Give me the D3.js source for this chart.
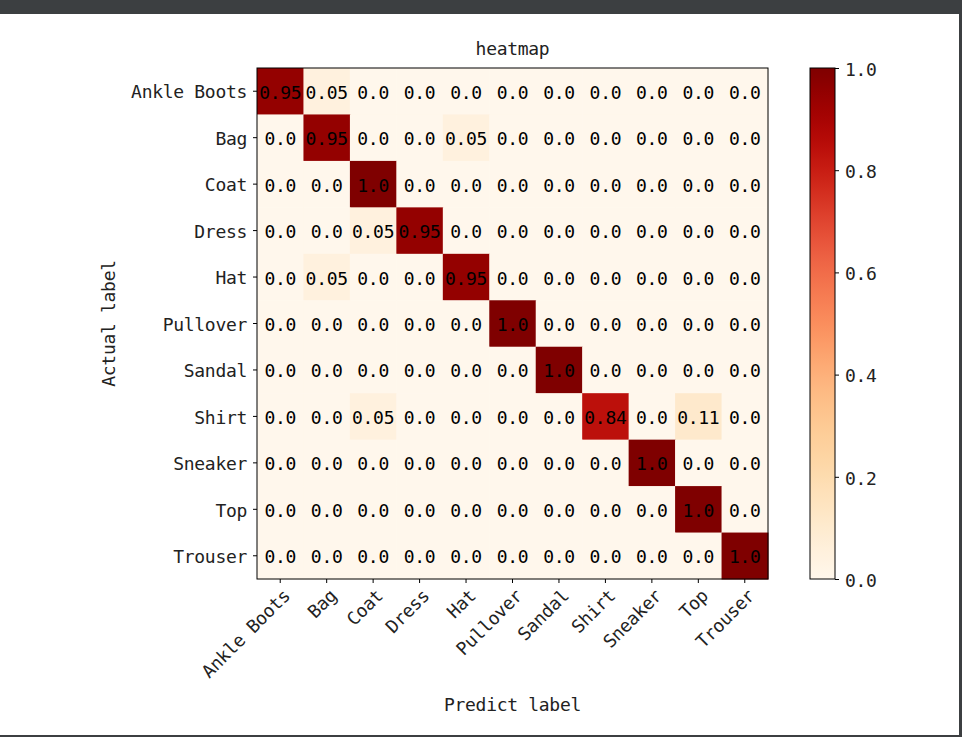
<!DOCTYPE html>
<html>
<head>
<meta charset="utf-8">
<script src="https://cdn.jsdelivr.net/npm/d3@7"></script>
<style>
  html, body { margin: 0; padding: 0; background: #ffffff; }
  svg text { font-family: "DejaVu Sans Mono", "Liberation Mono", monospace; fill: #222; }
</style>
</head>
<body>
<svg id="chart" width="962" height="737"></svg>
<script>
const categories = ["Ankle Boots", "Bag", "Coat", "Dress", "Hat", "Pullover", "Sandal", "Shirt", "Sneaker", "Top", "Trouser"];
const rowAnkleBoots = [0.95, 0.05, 0.0, 0.0, 0.0, 0.0, 0.0, 0.0, 0.0, 0.0, 0.0];
const rowBag        = [0.0, 0.95, 0.0, 0.0, 0.05, 0.0, 0.0, 0.0, 0.0, 0.0, 0.0];
const rowCoat       = [0.0, 0.0, 1.0, 0.0, 0.0, 0.0, 0.0, 0.0, 0.0, 0.0, 0.0];
const rowDress      = [0.0, 0.0, 0.05, 0.95, 0.0, 0.0, 0.0, 0.0, 0.0, 0.0, 0.0];
const rowHat        = [0.0, 0.05, 0.0, 0.0, 0.95, 0.0, 0.0, 0.0, 0.0, 0.0, 0.0];
const rowPullover   = [0.0, 0.0, 0.0, 0.0, 0.0, 1.0, 0.0, 0.0, 0.0, 0.0, 0.0];
const rowSandal     = [0.0, 0.0, 0.0, 0.0, 0.0, 0.0, 1.0, 0.0, 0.0, 0.0, 0.0];
const rowShirt      = [0.0, 0.0, 0.05, 0.0, 0.0, 0.0, 0.0, 0.84, 0.0, 0.11, 0.0];
const rowSneaker    = [0.0, 0.0, 0.0, 0.0, 0.0, 0.0, 0.0, 0.0, 1.0, 0.0, 0.0];
const rowTop        = [0.0, 0.0, 0.0, 0.0, 0.0, 0.0, 0.0, 0.0, 0.0, 1.0, 0.0];
const rowTrouser    = [0.0, 0.0, 0.0, 0.0, 0.0, 0.0, 0.0, 0.0, 0.0, 0.0, 1.0];
const matrix = [rowAnkleBoots, rowBag, rowCoat, rowDress, rowHat, rowPullover, rowSandal, rowShirt, rowSneaker, rowTop, rowTrouser];
const colorbarTicks = [0.0, 0.2, 0.4, 0.6, 0.8, 1.0];
const titleText = "heatmap";
const xLabelText = "Predict label";
const yLabelText = "Actual label";

const svg = d3.select("#chart");
const FS = 18;
const LS = "-0.3px";

// window frame
svg.append("rect").attr("x", 0).attr("y", 0).attr("width", 962).attr("height", 14).attr("fill", "#3c3f41");
svg.append("rect").attr("x", 959).attr("y", 0).attr("width", 3).attr("height", 737).attr("fill", "#3c3f41");
svg.append("rect").attr("x", 0).attr("y", 735).attr("width", 962).attr("height", 2).attr("fill", "#3c3f41");

const ax = { left: 257, right: 768, top: 68, bottom: 579 };
const x = d3.scaleBand().domain(categories).range([ax.left, ax.right]).padding(0);
const y = d3.scaleBand().domain(categories).range([ax.top, ax.bottom]).padding(0);
const color = d3.scaleSequential(d3.interpolateOrRd).domain([0, 1]);
const fmt = v => Number.isInteger(v) ? v.toFixed(1) : String(v);

const cells = [];
matrix.forEach((row, i) => row.forEach((v, j) => cells.push({ r: categories[i], c: categories[j], v })));

const g = svg.append("g");
g.selectAll("rect.cell").data(cells).join("rect")
  .attr("class", "cell")
  .attr("x", d => x(d.c)).attr("y", d => y(d.r))
  .attr("width", x.bandwidth() + 0.5).attr("height", y.bandwidth() + 0.5)
  .attr("fill", d => color(d.v));

g.selectAll("text.val").data(cells).join("text")
  .attr("class", "val")
  .attr("x", d => x(d.c) + x.bandwidth() / 2)
  .attr("y", d => y(d.r) + y.bandwidth() / 2 + 1)
  .attr("text-anchor", "middle").attr("dominant-baseline", "central")
  .attr("font-size", FS).attr("letter-spacing", LS).style("fill", "#000")
  .text(d => fmt(d.v));

// spines
svg.append("rect").attr("x", ax.left).attr("y", ax.top)
  .attr("width", ax.right - ax.left).attr("height", ax.bottom - ax.top)
  .attr("fill", "none").attr("stroke", "#000").attr("stroke-width", 1);

// y axis
const yAxis = d3.axisLeft(y).tickSize(4).tickPadding(6);
const yg = svg.append("g").attr("transform", `translate(${ax.left},0)`).call(yAxis);
yg.select(".domain").remove();
yg.selectAll("text").attr("font-size", FS).attr("font-family", null).attr("letter-spacing", LS)
  .attr("dy", "0.4em").style("fill", "#222");

// x axis
const xAxis = d3.axisBottom(x).tickSize(4).tickPadding(6);
const xg = svg.append("g").attr("transform", `translate(0,${ax.bottom})`).call(xAxis);
xg.select(".domain").remove();
xg.selectAll("text")
  .attr("font-size", FS).attr("font-family", null).attr("letter-spacing", LS).style("fill", "#222")
  .attr("text-anchor", "end")
  .attr("y", 0).attr("dy", "0.78em")
  .attr("transform", "translate(1,8) rotate(-45)");

// colorbar
const cb = { left: 810, right: 835, top: 68, bottom: 579 };
const cy = d3.scaleLinear().domain([0, 1]).range([cb.bottom, cb.top]);
const defs = svg.append("defs");
const grad = defs.append("linearGradient").attr("id", "cbgrad")
  .attr("x1", 0).attr("y1", 1).attr("x2", 0).attr("y2", 0);
d3.range(0, 1.0001, 0.02).forEach(t => grad.append("stop").attr("offset", t).attr("stop-color", color(t)));
svg.append("rect").attr("x", cb.left).attr("y", cb.top)
  .attr("width", cb.right - cb.left).attr("height", cb.bottom - cb.top)
  .attr("fill", "url(#cbgrad)").attr("stroke", "#000").attr("stroke-width", 1);
const cAxis = d3.axisRight(cy).tickValues(colorbarTicks).tickFormat(d3.format(".1f")).tickSize(4).tickPadding(6);
const cg = svg.append("g").attr("transform", `translate(${cb.right},0)`).call(cAxis);
cg.select(".domain").remove();
cg.selectAll("text").attr("font-size", FS).attr("font-family", null).attr("letter-spacing", LS)
  .attr("dy", "0.4em").style("fill", "#222");

// titles
svg.append("text").attr("x", (ax.left + ax.right) / 2).attr("y", 48)
  .attr("text-anchor", "middle").attr("dominant-baseline", "central")
  .attr("font-size", FS).attr("letter-spacing", LS).text(titleText);
svg.append("text").attr("x", (ax.left + ax.right) / 2).attr("y", 704)
  .attr("text-anchor", "middle").attr("dominant-baseline", "central")
  .attr("font-size", FS).attr("letter-spacing", LS).text(xLabelText);
svg.append("text").attr("transform", `translate(108,${(ax.top + ax.bottom) / 2}) rotate(-90)`)
  .attr("text-anchor", "middle").attr("dominant-baseline", "central")
  .attr("font-size", FS).attr("letter-spacing", LS).text(yLabelText);
</script>
</body>
</html>
